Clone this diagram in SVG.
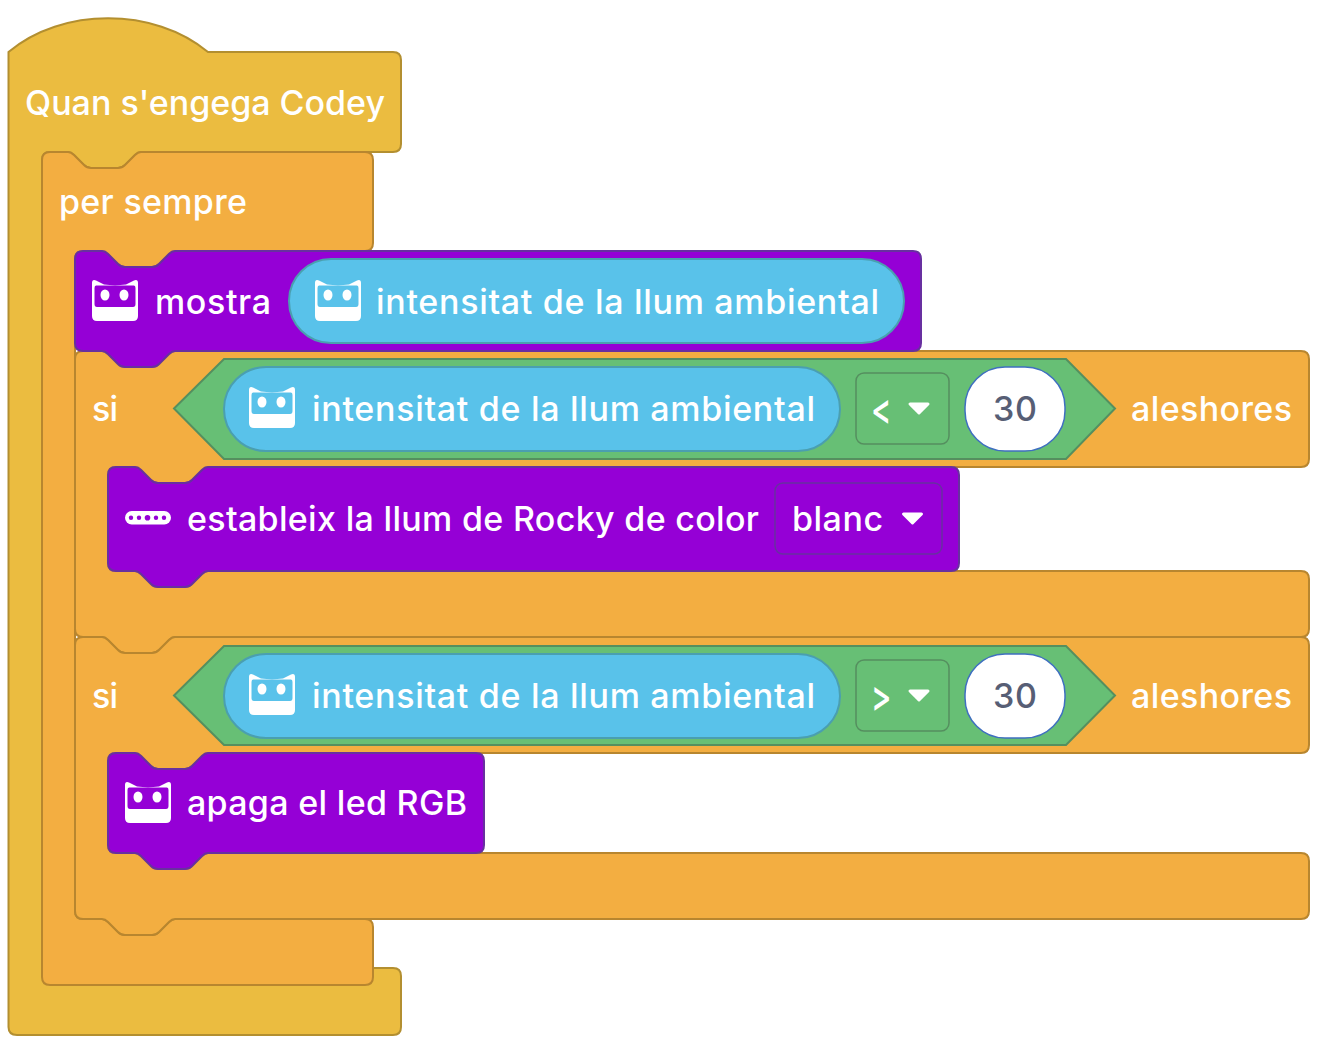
<svg xmlns="http://www.w3.org/2000/svg" width="1318" height="1048" viewBox="0 0 1318 1048">
<style>
.hat{fill:#ebbc40;stroke:#b38f30;stroke-width:2}
.ctl{fill:#f3ae41;stroke:#b8862f;stroke-width:2}
.pur{fill:#9500d6;stroke:#6830a0;stroke-width:2}
.rep{fill:#59c2ea;stroke:#4a9fb0;stroke-width:2}
.bool{fill:#67bf75;stroke:#558f5f;stroke-width:2}
.dd{fill:#67bf75;stroke:#558f5f;stroke-width:1.5}
.dp{fill:#9500d6;stroke:#6830a0;stroke-width:1.5}
.num{fill:#fff;stroke:#3f6fc0;stroke-width:1.5}
text{font-family:Inter,"Liberation Sans",sans-serif;font-size:34px;font-weight:500;fill:#fff}
.n{fill:#575e75;text-anchor:middle}
.w{fill:#fff}
.arr{fill:#fff;stroke:#fff;stroke-width:3;stroke-linejoin:round}
</style>
<defs>
<path id="cat" class="w" fill-rule="evenodd" d="M92 283Q92 279 96 280.500L104 284.500Q115 286 126 284.500L134 280.500Q138 279 138 283L138 316Q138 321 133 321L97 321Q92 321 92 316ZM96 285.500Q94.500 285.500 94.500 288L94.500 304Q94.500 307 97 307L133 307Q135.500 307 135.500 304L135.500 288Q135.500 285.500 134 285.500ZM105 289.500A4.500 5.500 0 1 0 105 300.500A4.500 5.500 0 1 0 105 289.500ZM124 289.500A4.500 5.500 0 1 0 124 300.500A4.500 5.500 0 1 0 124 289.500Z"/>
<path id="arrow" class="arr" d="M0 0L18 0L9 9Z"/>
</defs>

<g id="hat-start">
<path class="hat" d="M8.500 52C62 7 154 7 208 52L393 52Q401 52 401 60L401 144Q401 152 393 152L141 152Q138 152 135 155L125 165Q122 168 118 168L91 168Q87 168 84 165L74 155Q71 152 68 152L50 152Q42 152 42 160L42 960Q42 968 50 968L393 968Q401 968 401 976L401 1027Q401 1035 393 1035L17 1035Q8.500 1035 8.500 1027Z"/>
<text x="25" y="115" textLength="360">Quan s'engega Codey</text>
</g>

<g id="forever">
<path class="ctl" d="M42 160Q42 152 50 152L68 152Q71 152 74 155L84 165Q87 168 91 168L118 168Q122 168 125 165L135 155Q138 152 141 152L365 152Q373 152 373 160L373 243Q373 251 365 251L175 251Q172 251 169 254L159 264Q156 267 152 267L125 267Q121 267 118 264L108 254Q105 251 102 251L83 251Q75 251 75 259L75 911Q75 919 83 919L102 919Q105 919 108 922L118 932Q121 935 125 935L152 935Q156 935 159 932L169 922Q172 919 175 919L365 919Q373 919 373 927L373 977Q373 985 365 985L50 985Q42 985 42 977Z"/>
<text x="59" y="214" textLength="188">per sempre</text>
</g>

<g id="if-1">
<path class="ctl" d="M75 359Q75 351 83 351L102 351Q105 351 108 354L118 364Q121 367 125 367L152 367Q156 367 159 364L169 354Q172 351 175 351L1301 351Q1309 351 1309 359L1309 459Q1309 467 1301 467L208 467Q205 467 202 470L192 480Q189 483 185 483L158 483Q154 483 151 480L141 470Q138 467 135 467L116 467Q108 467 108 475L108 563Q108 571 116 571L135 571Q138 571 141 574L151 584Q154 587 158 587L185 587Q189 587 192 584L202 574Q205 571 208 571L1301 571Q1309 571 1309 579L1309 629Q1309 637 1301 637L175 637Q172 637 169 640L159 650Q156 653 152 653L125 653Q121 653 118 650L108 640Q105 637 102 637L83 637Q75 637 75 629Z"/>
<text x="92" y="421" textLength="26">si</text>
<text x="1131" y="421" textLength="161">aleshores</text>
</g>

<g id="if-2">
<path class="ctl" d="M75 645Q75 637 83 637L102 637Q105 637 108 640L118 650Q121 653 125 653L152 653Q156 653 159 650L169 640Q172 637 175 637L1301 637Q1309 637 1309 645L1309 745Q1309 753 1301 753L208 753Q205 753 202 756L192 766Q189 769 185 769L158 769Q154 769 151 766L141 756Q138 753 135 753L116 753Q108 753 108 761L108 845Q108 853 116 853L135 853Q138 853 141 856L151 866Q154 869 158 869L185 869Q189 869 192 866L202 856Q205 853 208 853L1301 853Q1309 853 1309 861L1309 911Q1309 919 1301 919L175 919Q172 919 169 922L159 932Q156 935 152 935L125 935Q121 935 118 932L108 922Q105 919 102 919L83 919Q75 919 75 911Z"/>
<text x="92" y="708" textLength="26">si</text>
<text x="1131" y="708" textLength="161">aleshores</text>
</g>

<g id="show">
<path class="pur" d="M75 259Q75 251 83 251L102 251Q105 251 108 254L118 264Q121 267 125 267L152 267Q156 267 159 264L169 254Q172 251 175 251L913 251Q921 251 921 259L921 343Q921 351 913 351L175 351Q172 351 169 354L159 364Q156 367 152 367L125 367Q121 367 118 364L108 354Q105 351 102 351L83 351Q75 351 75 343Z"/>
<use href="#cat"/>
<text x="155" y="314" textLength="116">mostra</text>
<rect class="rep" x="289" y="259" width="615" height="84" rx="42"/>
<use href="#cat" x="223"/>
<text x="376" y="314" textLength="503">intensitat de la llum ambiental</text>
</g>

<g id="condition-1">
<path class="bool" d="M174 408.500L224 359L1066 359L1115 408.500L1066 459L224 459Z"/>
<rect class="rep" x="224" y="367" width="616" height="84" rx="42"/>
<use href="#cat" x="157" y="107"/>
<text x="312" y="421" textLength="503">intensitat de la llum ambiental</text>
<rect class="dd" x="856" y="373" width="93" height="71" rx="8"/>
<text transform="translate(871 424) scale(.9 1.3)" font-weight="600">&lt;</text>
<use href="#arrow" x="910" y="404"/>
<rect class="num" x="965" y="367" width="100" height="84" rx="40"/>
<text class="n" x="1015" y="421" textLength="44">30</text>
</g>

<g id="rocky-light">
<path class="pur" d="M108 475Q108 467 116 467L135 467Q138 467 141 470L151 480Q154 483 158 483L185 483Q189 483 192 480L202 470Q205 467 208 467L951 467Q959 467 959 475L959 563Q959 571 951 571L208 571Q205 571 202 574L192 584Q189 587 185 587L158 587Q154 587 151 584L141 574Q138 571 135 571L116 571Q108 571 108 563Z"/>
<rect class="w" x="125" y="511" width="46" height="13.500" rx="6.750"/>
<g fill="#9500d6"><circle cx="131" cy="517.700" r="2.200"/><circle cx="139" cy="517.700" r="2.200"/><circle cx="147.500" cy="517.700" r="2.800"/><circle cx="156" cy="517.700" r="2.200"/><circle cx="164" cy="517.700" r="2.200"/></g>
<text x="187" y="531" textLength="572">estableix la llum de Rocky de color</text>
<rect class="dp" x="775" y="483" width="167" height="71" rx="8"/>
<text x="792" y="531" textLength="91">blanc</text>
<use href="#arrow" x="903.500" y="514"/>
</g>

<g id="condition-2">
<path class="bool" d="M174 695.500L224 646L1066 646L1115 695.500L1066 745L224 745Z"/>
<rect class="rep" x="224" y="654" width="616" height="84" rx="42"/>
<use href="#cat" x="157" y="394"/>
<text x="312" y="708" textLength="503">intensitat de la llum ambiental</text>
<rect class="dd" x="856" y="660" width="93" height="71" rx="8"/>
<text transform="translate(871 711) scale(.9 1.3)" font-weight="600">&gt;</text>
<use href="#arrow" x="910" y="691"/>
<rect class="num" x="965" y="654" width="100" height="84" rx="40"/>
<text class="n" x="1015" y="708" textLength="44">30</text>
</g>

<g id="led-off">
<path class="pur" d="M108 761Q108 753 116 753L135 753Q138 753 141 756L151 766Q154 769 158 769L185 769Q189 769 192 766L202 756Q205 753 208 753L476 753Q484 753 484 761L484 845Q484 853 476 853L208 853Q205 853 202 856L192 866Q189 869 185 869L158 869Q154 869 151 866L141 856Q138 853 135 853L116 853Q108 853 108 845Z"/>
<use href="#cat" x="33" y="502"/>
<text x="187" y="815" textLength="280">apaga el led RGB</text>
</g>
</svg>
